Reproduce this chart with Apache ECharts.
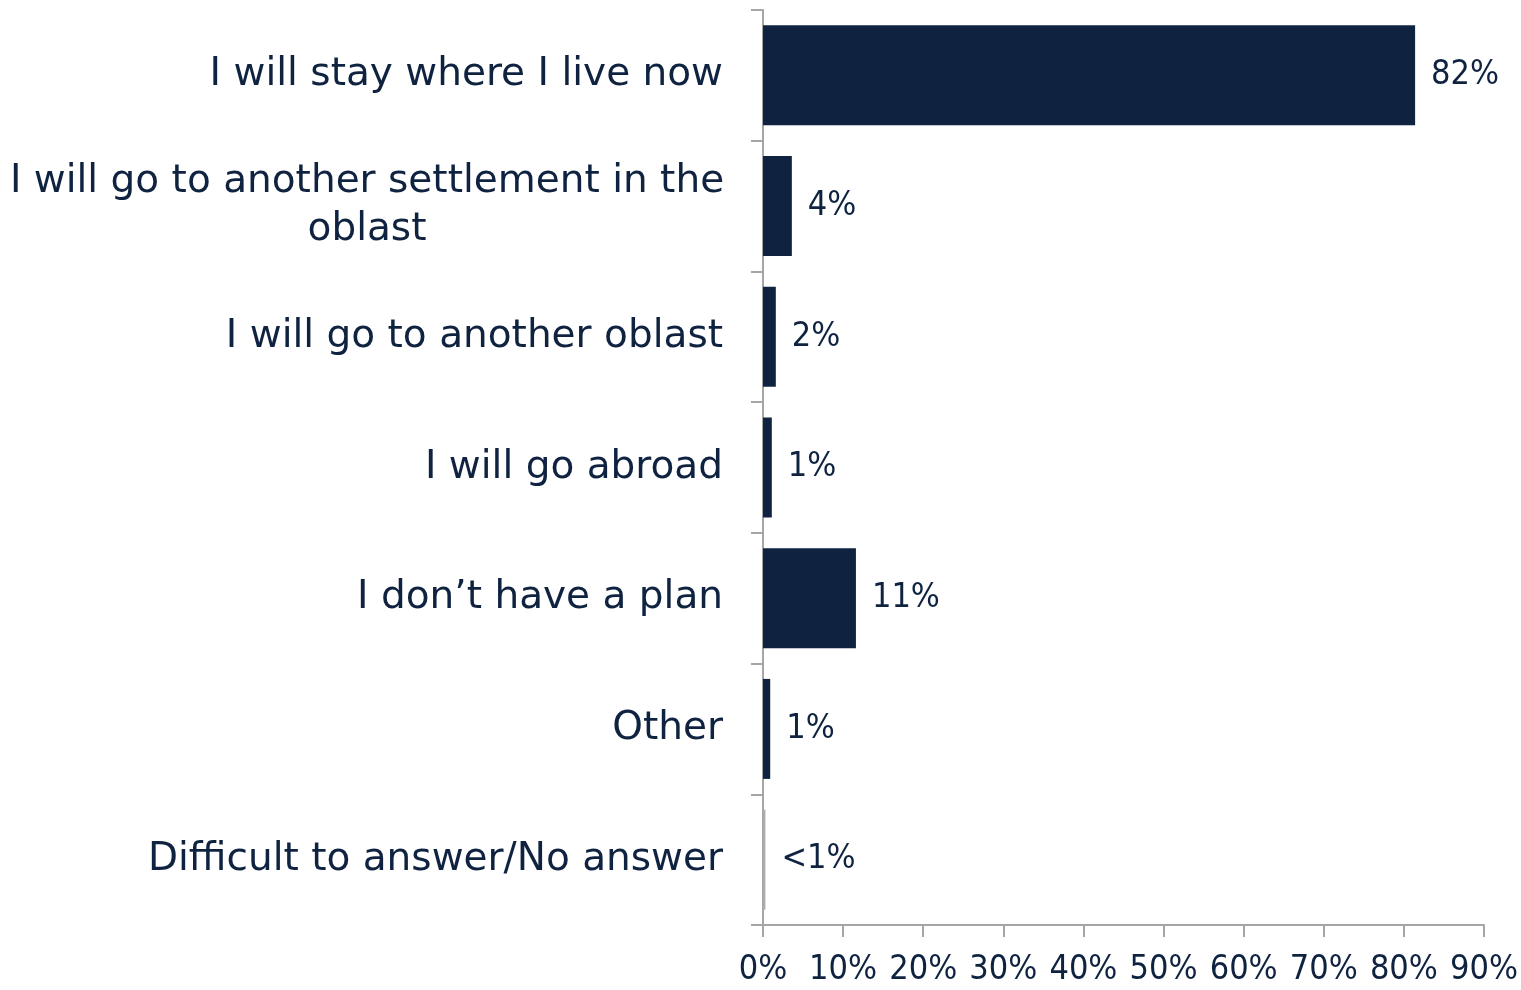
<!DOCTYPE html>
<html>
<head>
<meta charset="utf-8">
<script src="https://cdn.jsdelivr.net/npm/echarts@6/dist/echarts.min.js"></script>
<style>
html, body { margin: 0; padding: 0; background: #fff; }
#chart { width: 1521px; height: 990px; }
</style>
</head>
<body>
<div id="chart"></div>
<script>
var categories = [
	"I will stay where I live now",
	"I will go to another settlement in the\noblast",
	"I will go to another oblast",
	"I will go abroad",
	"I don\u2019t have a plan",
	"Other",
	"Difficult to answer/No answer"
];
var values = [81.4, 3.6, 1.6, 1.1, 11.6, 0.9, 0.3];
var valueLabels = ["82%", "4%", "2%", "1%", "11%", "1%", "<1%"];
var barColors = ["#0F2341", "#0F2341", "#0F2341", "#0F2341", "#0F2341", "#0F2341", "#ABABAB"];

var textColor = '#0F2341';
var font = '"DejaVu Sans", sans-serif';
var fontNarrow = '"DejaVu Sans Condensed", "DejaVu Sans", sans-serif';

var myChart = echarts.init(document.getElementById('chart'));
var option = {
	animation: false,
	grid: {
		left: 763,
		right: 36,
		top: 10,
		bottom: 65
	},
	xAxis: {
		type: 'value',
		min: 0,
		max: 90,
		interval: 10,
		splitLine: { show: false },
		axisLine: { show: true, lineStyle: { color: '#A6A6A6', width: 2 } },
		axisTick: { show: true, length: 12, lineStyle: { color: '#A6A6A6', width: 2 } },
		axisLabel: {
			formatter: '{value}%',
			color: textColor,
			fontSize: 34,
			fontFamily: fontNarrow,
			margin: 28
		}
	},
	yAxis: {
		type: 'category',
		inverse: true,
		data: categories,
		axisLine: { show: true, lineStyle: { color: '#A6A6A6', width: 2 } },
		axisTick: { show: true, length: 12, lineStyle: { color: '#A6A6A6', width: 2 } },
		axisLabel: {
			color: textColor,
			fontSize: 39,
			fontFamily: font,
			margin: 40,
			formatter: function (v) {
				if (v.indexOf('\n') >= 0) {
					return v.split('\n').map(function (s) { return '{c|' + s + '}'; }).join('\n');
				}
				return v;
			},
			rich: {
				c: { width: 712, align: 'center', fontSize: 39, fontFamily: font, color: textColor, lineHeight: 48 }
			}
		}
	},
	series: [{
		type: 'bar',
		barCategoryGap: '23.5%',
		data: values.map(function (v, i) {
			return { value: v, itemStyle: { color: barColors[i] } };
		}),
		label: {
			show: true,
			position: 'right',
			distance: 16,
			color: textColor,
			fontSize: 34,
			fontFamily: fontNarrow,
			formatter: function (p) { return valueLabels[p.dataIndex]; }
		}
	}]
};
myChart.setOption(option);
</script>
</body>
</html>
